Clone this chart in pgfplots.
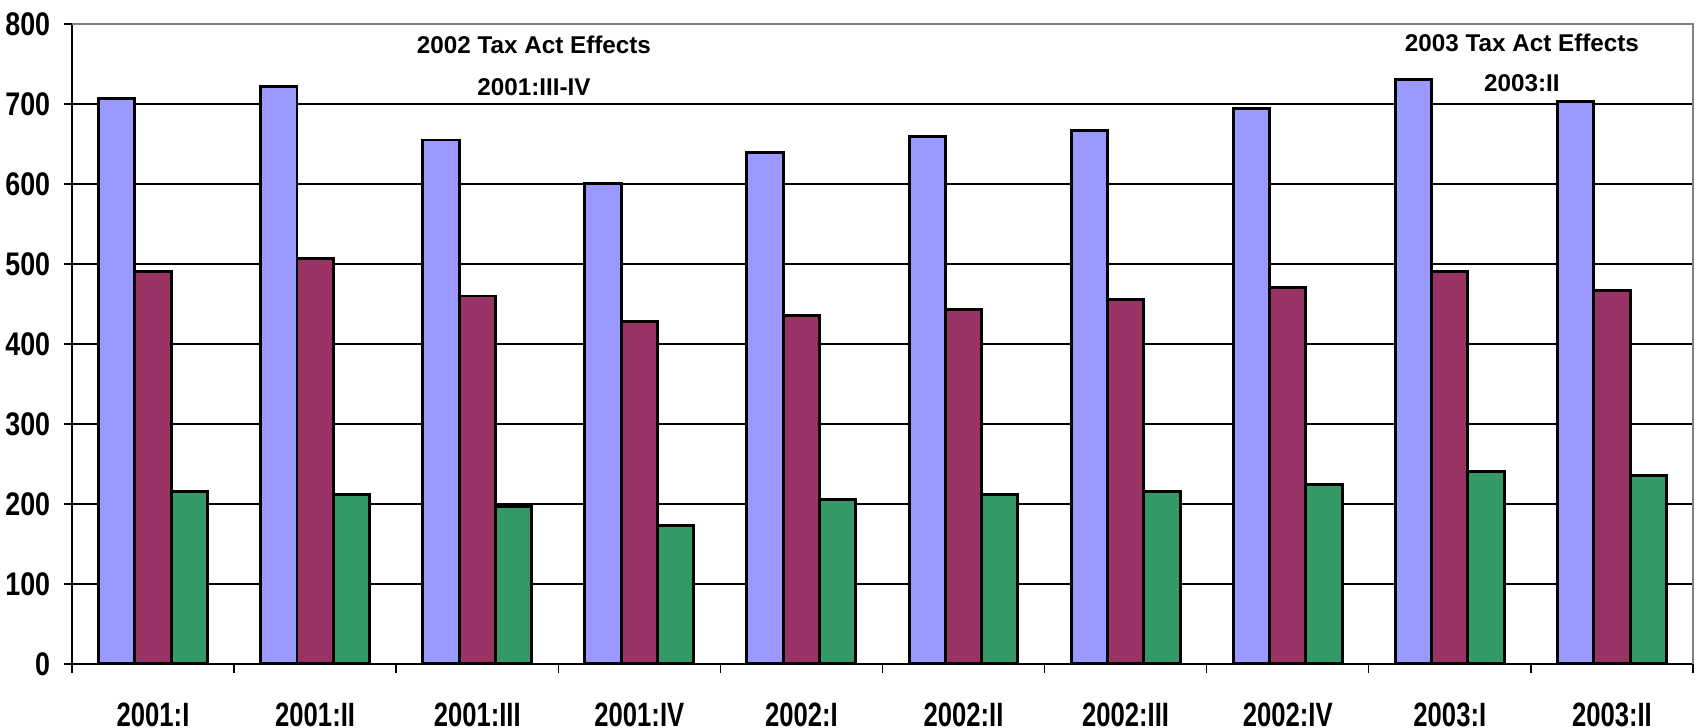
\documentclass[border=0pt]{standalone}
\usepackage{pgfplots}
\pgfplotsset{compat=1.18}
\usepackage{fontspec}
\setmainfont{Liberation Sans}
\newfontfamily\narrowA{Liberation Sans}[FakeStretch=0.82]
\newfontfamily\narrowB{Liberation Sans}[FakeStretch=0.76]
\definecolor{cblue}{HTML}{9999FF}
\definecolor{cmaroon}{HTML}{993366}
\definecolor{cgreen}{HTML}{339966}
\begin{document}
\begin{tikzpicture}
\begin{axis}[
  scale only axis,
  width=162.1mm, height=64mm,
  xmin=-0.5, xmax=9.5, ymin=0, ymax=800,
  ybar=0pt, bar width=3.63mm,
  axis x line*=bottom, axis y line*=left,
  axis line style={black, line width=0.4pt},
  tick align=outside,
  xtick={0,...,9},
  xticklabels={2001:I,2001:II,2001:III,2001:IV,2002:I,2002:II,2002:III,2002:IV,2003:I,2003:II},
  major x tick style={draw=none},
  minor xtick={-0.5,0.5,...,9.5},
  minor tick length=0.9mm,
  major tick length=0.75mm,
  tick style={black, line width=0.4pt},
  ytick={0,100,...,800},
  ymajorgrids,
  grid style={black, line width=0.3pt},
  /pgf/number format/assume math mode=true,
  yticklabel style={font=\narrowA\bfseries\fontsize{9.3pt}{10pt}\selectfont, anchor=east, xshift=-0.2mm},
  xticklabel style={font=\narrowB\bfseries\fontsize{9.6pt}{10pt}\selectfont, anchor=center, yshift=-4.3mm},
  every axis plot/.append style={draw=black, line width=0.85pt},
  clip=false,
]
\addplot[fill=cblue] coordinates {(0,707) (1,722) (2,655) (3,601) (4,639) (5,659) (6,667) (7,694) (8,731) (9,703)};
\addplot[fill=cmaroon] coordinates {(0,491) (1,507) (2,460) (3,428) (4,436) (5,443) (6,456) (7,471) (8,491) (9,467)};
\addplot[fill=cgreen] coordinates {(0,216) (1,212) (2,197) (3,173) (4,205) (5,212) (6,216) (7,224) (8,240) (9,236)};
\draw[gray, line width=0.7pt] (rel axis cs:0,1) -- (rel axis cs:1,1) -- (rel axis cs:1,0);
\coordinate (O) at (rel axis cs:0,0);
\node[font=\bfseries\fontsize{6.9pt}{8pt}\selectfont] at (axis cs:2.35,774) {2002 Tax Act Effects};
\node[font=\bfseries\fontsize{6.9pt}{8pt}\selectfont] at (axis cs:2.35,721) {2001:III-IV};
\node[font=\bfseries\fontsize{6.9pt}{8pt}\selectfont] at (axis cs:8.445,777) {2003 Tax Act Effects};
\node[font=\bfseries\fontsize{6.9pt}{8pt}\selectfont] at (axis cs:8.445,726) {2003:II};
\end{axis}
\pgfresetboundingbox
\path (O) ++(-7.2mm,-6.4mm) rectangle ++(169.6mm,72.8mm);
\end{tikzpicture}
\end{document}
